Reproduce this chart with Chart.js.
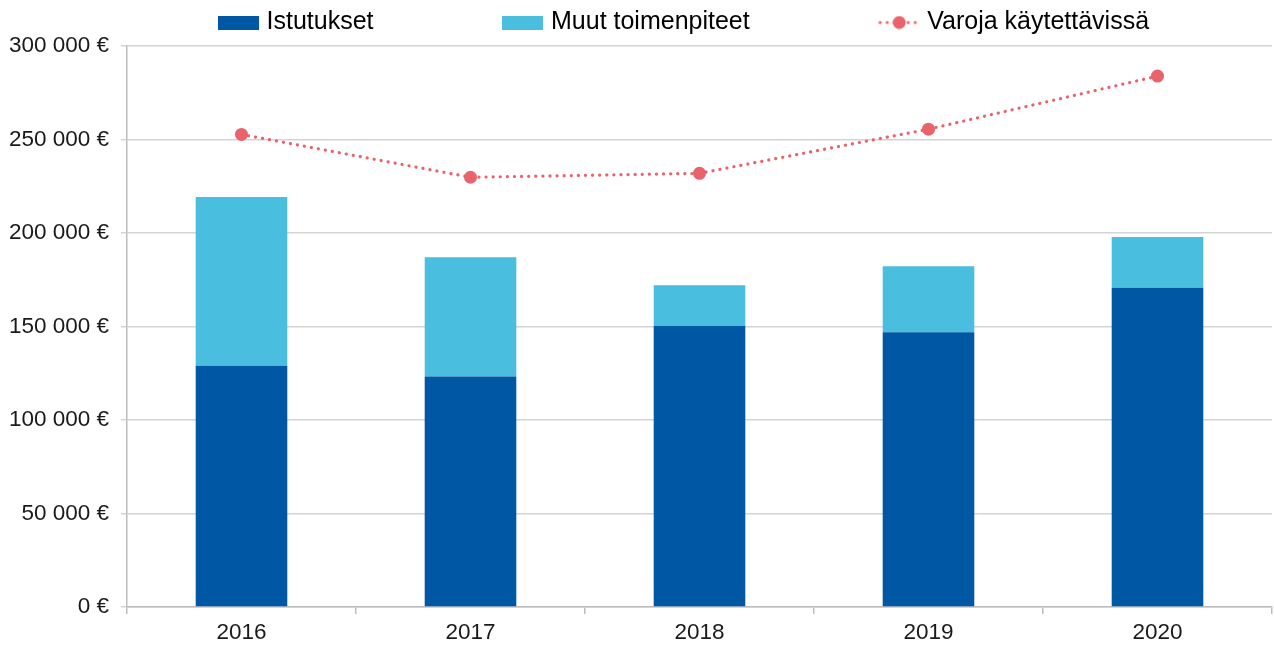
<!DOCTYPE html>
<html>
<head>
<meta charset="utf-8">
<script src="https://cdn.jsdelivr.net/npm/chart.js@4"></script>
<style>
    html, body { margin: 0; padding: 0; background: #fff; }
    #wrap { width: 1274px; height: 648px; }
</style>
</head>
<body>
<div id="wrap"><canvas id="chart"></canvas></div>
<script>
// --- Data ---
const years = ['2016', '2017', '2018', '2019', '2020'];
const istutukset = [129000, 123200, 150300, 146900, 170700];
const muutToimenpiteet = [90300, 63800, 21700, 35300, 27200];
const varojaKaytettavissa = [252700, 229800, 231900, 255500, 283900];
const yTicks = [0, 50000, 100000, 150000, 200000, 250000, 300000];

// --- Colours ---
const DARK_BLUE = '#0057A4';
const LIGHT_BLUE = '#49BEDE';
const RED = '#E8636B';
const GRID = '#d4d4d4';
const AXIS = '#bdbdbd';
const FONT = '"Liberation Sans", Arial, sans-serif';

// legend swatches
function boxSwatch(color) {
    const c = document.createElement('canvas');
    c.width = 41; c.height = 14;
    const g = c.getContext('2d');
    g.fillStyle = color;
    g.fillRect(0, 0, 41, 14);
    return c;
}
function lineSwatch() {
    const c = document.createElement('canvas');
    c.width = 42; c.height = 14;
    const g = c.getContext('2d');
    g.fillStyle = RED;
    for (let x = 2; x < 42; x += 7) {
        g.beginPath(); g.arc(x, 7, 1.6, 0, Math.PI * 2); g.fill();
    }
    g.beginPath(); g.arc(21, 7, 6.5, 0, Math.PI * 2); g.fill();
    return c;
}
const swatches = [boxSwatch(DARK_BLUE), boxSwatch(LIGHT_BLUE), lineSwatch()];

const fmt = v => String(v).replace(/\B(?=(\d{3})+(?!\d))/g, ' ') + ' €';

const LEGEND_GAP = 134;

// legend: one row with wide gaps; reserve 46px on top, then place the row
const legendPlace = {
    id: 'legendPlace',
    beforeInit(chart) {
        const lg = chart.legend;
        const orig = lg.fit;
        lg.fit = function () {
            this.maxWidth = 5000;
            orig.bind(lg)();
            this.height = 46;
        };
    },
    afterLayout(chart) {
        const lg = chart.legend;
        lg.left = 89;
        lg.right = 5000;
        lg.top = 10 - LEGEND_GAP;
    }
};

new Chart(document.getElementById('chart'), {
    data: {
        labels: years,
        datasets: [
            { type: 'bar', label: 'Istutukset', data: istutukset, backgroundColor: DARK_BLUE,
              stack: 'bars', order: 1, barPercentage: 0.4, categoryPercentage: 1 },
            { type: 'bar', label: 'Muut toimenpiteet', data: muutToimenpiteet, backgroundColor: LIGHT_BLUE,
              stack: 'bars', order: 1, barPercentage: 0.4, categoryPercentage: 1 },
            { type: 'line', label: 'Varoja käytettävissä', data: varojaKaytettavissa, stack: 'line', order: 0,
              borderColor: RED, backgroundColor: RED, borderWidth: 3.2, borderDash: [0.1, 7],
              borderCapStyle: 'round', pointRadius: 6.5, pointHoverRadius: 6.5, pointBorderWidth: 0,
              tension: 0, fill: false }
        ]
    },
    options: {
        responsive: true,
        maintainAspectRatio: false,
        animation: false,
        layout: { autoPadding: false, padding: { left: 0, right: 2, top: 0, bottom: 0 } },
        plugins: {
            legend: {
                position: 'top',
                align: 'start',
                labels: {
                    usePointStyle: true,
                    pointStyleWidth: 31,
                    boxHeight: 14,
                    padding: LEGEND_GAP,
                    color: '#1a1a1a',
                    font: { family: FONT, size: 25 },
                    generateLabels(chart) {
                        return chart.data.datasets.map((ds, i) => ({
                            text: ds.label, pointStyle: swatches[i], fillStyle: ds.backgroundColor,
                            strokeStyle: 'transparent', lineWidth: 0, datasetIndex: i, hidden: false
                        }));
                    }
                }
            },
            tooltip: { enabled: false }
        },
        scales: {
            x: {
                stacked: true,
                offset: true,
                grid: { offset: true, drawOnChartArea: false, drawTicks: true, tickLength: 7, color: AXIS, lineWidth: 1.5 },
                border: { color: AXIS, width: 1.5 },
                ticks: { color: '#1a1a1a', font: { family: FONT, size: 22.5 }, padding: 5 },
                afterFit(scale) { scale.height = 41; scale.paddingLeft = 0; scale.paddingRight = 0; }
            },
            y: {
                stacked: true,
                min: 0,
                max: 300000,
                afterBuildTicks(scale) { scale.ticks = yTicks.map(v => ({ value: v })); },
                grid: { color: GRID, lineWidth: 1.5, tickLength: 6 },
                border: { color: AXIS, width: 1.5 },
                ticks: { color: '#1a1a1a', font: { family: FONT, size: 22.5 }, padding: 12, callback: v => fmt(v) },
                afterFit(scale) { scale.width = 127; }
            }
        }
    },
    plugins: [legendPlace]
});
</script>
</body>
</html>
